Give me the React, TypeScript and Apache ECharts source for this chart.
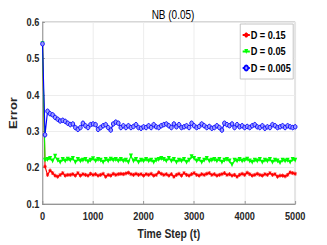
import React, { useEffect, useRef } from "react";
import * as echarts from "echarts";

const TITLE = "NB (0.05)";
const STEP = 50;
const SERIES_NAMES = ["D = 0.15", "D = 0.05", "D = 0.005"];
const X_TICKS = [0, 1000, 2000, 3000, 4000, 5000];

const RED = [
  0.54, 0.203, 0.18, 0.192, 0.185, 0.178, 0.175, 0.18, 0.185, 0.178, 0.18,
  0.18, 0.182, 0.178, 0.185, 0.178, 0.182, 0.18, 0.178, 0.183, 0.18,
  0.182, 0.178, 0.18, 0.183, 0.175, 0.18, 0.178, 0.183, 0.18, 0.182,
  0.183, 0.182, 0.184, 0.186, 0.182, 0.18, 0.183, 0.18, 0.182, 0.178,
  0.182, 0.18, 0.183, 0.178, 0.18, 0.187, 0.183, 0.18, 0.182, 0.178,
  0.182, 0.175, 0.18, 0.183, 0.178, 0.185, 0.18, 0.178, 0.182, 0.185,
  0.18, 0.178, 0.182, 0.18, 0.183, 0.185, 0.18, 0.182, 0.178, 0.18,
  0.182, 0.185, 0.18, 0.182, 0.178, 0.18, 0.175, 0.18, 0.183, 0.18,
  0.186, 0.182, 0.178, 0.18, 0.183, 0.18, 0.178, 0.182, 0.18, 0.185,
  0.18, 0.182, 0.175, 0.178, 0.178, 0.176, 0.18, 0.187, 0.185, 0.183,
];

const GREEN = [
  0.54, 0.22, 0.222, 0.225, 0.218, 0.231, 0.22, 0.215, 0.222, 0.218, 0.223,
  0.22, 0.225, 0.215, 0.222, 0.218, 0.22, 0.222, 0.216, 0.22, 0.224,
  0.218, 0.222, 0.22, 0.215, 0.222, 0.218, 0.223, 0.22, 0.222, 0.218,
  0.222, 0.218, 0.22, 0.215, 0.232, 0.218, 0.222, 0.215, 0.22, 0.218,
  0.222, 0.218, 0.22, 0.215, 0.22, 0.222, 0.225, 0.222, 0.218, 0.225,
  0.218, 0.222, 0.215, 0.22, 0.218, 0.222, 0.215, 0.22, 0.23, 0.225,
  0.218, 0.222, 0.215, 0.22, 0.225, 0.218, 0.22, 0.222, 0.218, 0.222,
  0.215, 0.22, 0.222, 0.218, 0.208, 0.22, 0.218, 0.222, 0.218, 0.22,
  0.223, 0.218, 0.215, 0.22, 0.218, 0.222, 0.215, 0.22, 0.218, 0.222,
  0.215, 0.22, 0.218, 0.213, 0.22, 0.218, 0.22, 0.215, 0.222, 0.22,
];

const BLUE = [
  0.54, 0.29, 0.355, 0.348, 0.345, 0.338, 0.333, 0.328, 0.33, 0.327, 0.322,
  0.318, 0.32, 0.31, 0.305, 0.31, 0.322, 0.315, 0.31, 0.318, 0.32,
  0.318, 0.305, 0.31, 0.315, 0.318, 0.31, 0.303, 0.32, 0.325, 0.322,
  0.31, 0.315, 0.31, 0.315, 0.31, 0.313, 0.318, 0.31, 0.308, 0.312,
  0.31, 0.315, 0.31, 0.318, 0.312, 0.31, 0.315, 0.318, 0.32, 0.315,
  0.31, 0.32, 0.312, 0.318, 0.31, 0.312, 0.315, 0.31, 0.322, 0.315,
  0.31, 0.313, 0.32, 0.315, 0.31, 0.313, 0.308, 0.31, 0.315, 0.31,
  0.303, 0.322, 0.318, 0.315, 0.32, 0.31, 0.318, 0.312, 0.315, 0.31,
  0.313, 0.31, 0.315, 0.318, 0.312, 0.31, 0.315, 0.308, 0.312, 0.31,
  0.318, 0.315, 0.31, 0.312, 0.315, 0.31, 0.315, 0.312, 0.31, 0.312,
];

const FONT = "'Liberation Sans', Arial, Helvetica, sans-serif";
const ASTERISK =
  "path://M5,0 L5,10 M0,5 L10,5 M1.5,1.5 L8.5,8.5 M8.5,1.5 L1.5,8.5";

// The original figure is horizontally compressed; render wider and squeeze.
const SQUEEZE = 0.8;
const W = 327 / SQUEEZE;
const H = 245;

function pairs(values: number[]) {
  return values.map((v, i) => [i * STEP, v]);
}

export default function App() {
  const ref = useRef<HTMLDivElement>(null);

  useEffect(() => {
    if (!ref.current) return;
    const chart = echarts.init(ref.current, null, { renderer: "svg" });
    const axisText = { color: "#262626", fontFamily: FONT, fontWeight: "bold" as const, fontSize: 11.5 };
    chart.setOption({
      animation: false,
      backgroundColor: "#ffffff",
      title: {
        text: TITLE,
        left: 169 / SQUEEZE,
        textAlign: "center",
        top: 3,
        textStyle: { fontFamily: FONT, fontWeight: "normal", fontSize: 12.5, color: "#000" },
      },
      grid: {
        left: 42.5 / SQUEEZE,
        right: 32 / SQUEEZE,
        top: 22,
        bottom: 38,
        containLabel: false,
        show: true,
        borderColor: "#a6a6a6",
        borderWidth: 1,
        backgroundColor: "transparent",
      },
      legend: {
        orient: "vertical",
        right: 34 / SQUEEZE,
        top: 24,
        padding: [5, 3, 5, 2],
        itemGap: 4.5,
        itemWidth: 9,
        itemHeight: 6,
        backgroundColor: "#ffffff",
        borderColor: "#bdbdbd",
        borderWidth: 1,
        borderRadius: 0,
        textStyle: { fontFamily: FONT, fontWeight: "bold", fontSize: 11.5, color: "#000", padding: [0, 0, 0, -4] },
        data: SERIES_NAMES,
      },
      xAxis: {
        type: "value",
        min: 0,
        max: 5000,
        interval: 1000,
        name: "Time Step (t)",
        nameLocation: "middle",
        nameGap: 23,
        nameTextStyle: { ...axisText, fontSize: 13 },
        axisLine: { show: true, lineStyle: { color: "#8c8c8c" } },
        axisTick: { show: true, inside: true, length: 3, lineStyle: { color: "#8c8c8c" } },
        axisLabel: { ...axisText, margin: 6, customValues: X_TICKS, formatter: (v: number) => String(v) },
        splitLine: { show: true, lineStyle: { color: "#ebebeb", width: 1 } },
      },
      yAxis: {
        type: "value",
        min: 0.1,
        max: 0.6,
        interval: 0.1,
        name: "Error",
        nameLocation: "middle",
        nameGap: 17,
        nameTextStyle: { ...axisText, fontSize: 13 },
        axisLine: { show: true, lineStyle: { color: "#8c8c8c" } },
        axisTick: { show: true, inside: true, length: 3, lineStyle: { color: "#8c8c8c" } },
        axisLabel: { ...axisText, margin: 4, formatter: (v: number) => v.toFixed(1) },
        splitLine: { show: true, lineStyle: { color: "#ebebeb", width: 1 } },
      },
      series: [
        {
          name: SERIES_NAMES[0],
          type: "line",
          data: pairs(RED),
          symbol: ASTERISK,
          symbolSize: 4,
          showAllSymbol: true,
          color: "#ff0000",
          lineStyle: { width: 1.4, color: "#ff0000" },
          itemStyle: { color: "#ff0000", borderColor: "#ff0000", borderWidth: 1 },
          z: 3,
        },
        {
          name: SERIES_NAMES[1],
          type: "line",
          data: pairs(GREEN),
          symbol: "triangle",
          symbolRotate: 180,
          symbolSize: 5,
          showAllSymbol: true,
          color: "#00ff00",
          lineStyle: { width: 1.4, color: "#00ff00" },
          itemStyle: { color: "#00ff00" },
          z: 4,
        },
        {
          name: SERIES_NAMES[2],
          type: "line",
          data: pairs(BLUE),
          symbol: "circle",
          symbolSize: 4.5,
          showAllSymbol: true,
          color: "#0000ff",
          lineStyle: { width: 1.4, color: "#0000ff" },
          itemStyle: { color: "#9a9aff", borderColor: "#0000ff", borderWidth: 1 },
          z: 5,
        },
      ],
    });
    return () => chart.dispose();
  }, []);

  return (
    <div
      ref={ref}
      style={{
        position: "absolute",
        left: 0,
        top: 0,
        width: W,
        height: H,
        transform: `scaleX(${SQUEEZE})`,
        transformOrigin: "0 0",
      }}
    />
  );
}
